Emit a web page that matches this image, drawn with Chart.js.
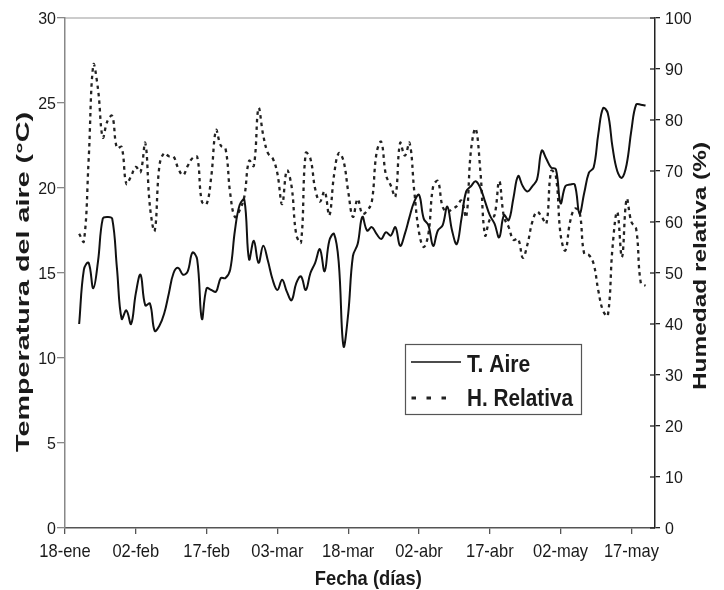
<!DOCTYPE html>
<html>
<head>
<meta charset="utf-8">
<script src="https://cdn.jsdelivr.net/npm/chart.js@4.4.1/dist/chart.umd.min.js"></script>
<style>
  html, body { margin: 0; padding: 0; background: #fff; }
  #wrap { width: 724px; height: 590px; }
</style>
</head>
<body>
<div id="wrap"><canvas id="chart" width="724" height="590"></canvas></div>
<script>
// Tick labels on the date axis, one every 15 days from 18-ene
const tickLabels = ['18-ene', '02-feb', '17-feb', '03-mar', '18-mar', '02-abr', '17-abr', '02-may', '17-may'];
const tickStep = 15;
const lastDay = 125;
// Daily series start on 21-ene (day 3 after 18-ene)
const firstDay = 3;

// Temperatura del aire (°C), one value per day
const tempAire = [
  12.0, 15.2, 15.6, 14.1, 15.7, 18.2, 18.3, 18.2, 15.3, 12.3,
  12.8, 12.0, 13.8, 14.9, 13.1, 13.2, 11.6, 11.9, 12.6, 13.8,
  15.0, 15.3, 14.9, 15.1, 16.2, 15.8, 12.3, 14.1, 14.0, 13.9,
  14.7, 14.7, 15.2, 17.5, 19.0, 19.3, 15.8, 16.9, 15.6, 16.6,
  15.7, 14.6, 14.0, 14.6, 13.9, 13.4, 14.4, 14.8, 14.0, 15.0,
  15.6, 16.4, 15.1, 16.9, 17.3, 15.6, 10.7, 12.6, 16.0, 16.7,
  18.3, 17.5, 17.7, 17.3, 17.0, 17.4, 17.2, 17.7, 16.6, 17.3,
  18.3, 19.2, 19.6, 18.2, 17.8, 16.6, 17.5, 17.8, 18.9, 17.5,
  16.7, 18.2, 19.8, 20.1, 20.4, 20.0, 19.2, 18.4, 17.9, 17.1,
  18.4, 18.1, 19.4, 20.7, 20.1, 19.8, 20.1, 20.5, 22.2, 21.7,
  21.2, 21.1, 19.1, 20.1, 20.2, 20.2, 18.5, 19.7, 20.9, 21.2,
  23.2, 24.7, 24.4, 22.4, 21.0, 20.6, 21.4, 23.4, 24.9, 24.9,
  24.85
];

// Humedad relativa (%), one value per day
const humRelativa = [
  57.7, 56.2, 72.0, 90.8, 86.0, 76.6, 79.8, 80.8, 74.5, 74.7,
  67.5, 69.0, 70.8, 69.8, 75.5, 63.0, 58.3, 71.0, 73.5, 72.9,
  72.8, 70.5, 69.2, 71.0, 72.5, 72.8, 64.0, 63.5, 69.0, 78.0,
  75.0, 74.4, 65.6, 61.0, 62.3, 65.0, 72.0, 71.0, 82.3, 77.0,
  73.5, 72.5, 69.5, 63.5, 70.1, 67.0, 57.5, 56.0, 73.5, 72.4,
  66.5, 64.0, 66.0, 61.3, 69.2, 73.5, 72.0, 66.0, 61.0, 64.5,
  61.6, 62.2, 64.0, 73.5, 75.7, 69.2, 67.2, 65.0, 75.5, 73.0,
  75.5, 66.0, 58.0, 55.1, 57.7, 67.0, 68.0, 63.0, 62.0, 62.5,
  63.1, 64.2, 61.0, 74.0, 78.3, 70.0, 57.4, 60.5, 61.3, 68.0,
  61.0, 59.0, 56.5, 56.7, 53.0, 55.7, 60.0, 62.0, 61.0, 59.7,
  70.0, 69.0, 57.5, 54.4, 60.0, 62.6, 62.0, 53.8, 53.5, 51.8,
  46.5, 42.6, 41.6, 55.0, 62.0, 53.1, 64.5, 60.0, 58.7, 48.0,
  47.5
];

const FONT = '"Liberation Sans", Arial, sans-serif';
const TEXT = '#1a1a1a';

function toPoints(values) {
  return values.map((v, i) => ({ x: firstDay + i, y: v }));
}

// The original text is stretched (taller than wide), so labels are drawn by hand.
// y is the centre of the capital letters; len / capH set the stretched size.
function drawText(ctx, text, o) {
  const size = o.size || 16;
  ctx.save();
  ctx.font = (o.bold ? 'bold ' : '') + size + 'px ' + FONT;
  const w = ctx.measureText(text).width;
  const sx = o.len ? o.len / w : 1;
  const sy = o.capH ? o.capH / (0.716 * size) : 1;
  ctx.translate(o.x, o.y);
  ctx.rotate(o.angle || 0);
  ctx.scale(sx, sy);
  ctx.textAlign = o.align || 'center';
  ctx.textBaseline = 'alphabetic';
  ctx.fillStyle = TEXT;
  ctx.fillText(text, 0, 0.358 * size);
  ctx.restore();
}

const extras = {
  id: 'extras',
  afterDraw(chart) {
    const { ctx, chartArea: a, scales } = chart;
    ctx.save();

    // Top border of the plot area
    ctx.strokeStyle = '#9a9a9a';
    ctx.lineWidth = 1.2;
    ctx.beginPath();
    ctx.moveTo(a.left, a.top);
    ctx.lineTo(a.right, a.top);
    ctx.stroke();

    // Right axis ticks cross the axis line
    ctx.strokeStyle = '#222';
    ctx.lineWidth = 1.3;
    scales.y1.ticks.forEach((t) => {
      const y = scales.y1.getPixelForValue(t.value);
      ctx.beginPath();
      ctx.moveTo(a.right - 5, y);
      ctx.lineTo(a.right, y);
      ctx.stroke();
    });

    // Tick labels
    scales.x.ticks.forEach((t) => {
      const label = tickLabels[t.value / tickStep];
      if (!label) return;
      drawText(ctx, label, { x: scales.x.getPixelForValue(t.value), y: 550.6, size: 16.5, capH: 13 });
    });
    scales.y.ticks.forEach((t) => {
      drawText(ctx, String(t.value), { x: 56, y: scales.y.getPixelForValue(t.value), align: 'right', size: 16, capH: 12.4 });
    });
    scales.y1.ticks.forEach((t) => {
      drawText(ctx, String(t.value), { x: 665, y: scales.y1.getPixelForValue(t.value), align: 'left', size: 16, capH: 12.4 });
    });

    // Axis titles
    drawText(ctx, 'Temperatura del aire (°C)', { x: 21.8, y: 282, angle: -Math.PI / 2, size: 19, bold: true, len: 340, capH: 13.5 });
    drawText(ctx, 'Humedad relativa (%)', { x: 699.6, y: 266, angle: -Math.PI / 2, size: 18, bold: true, len: 248, capH: 12.5 });
    drawText(ctx, 'Fecha (días)', { x: 368.3, y: 577.5, size: 17, bold: true, len: 107, capH: 14 });

    // Legend box inside the plot
    const ds = chart.data.datasets;
    ctx.strokeStyle = '#555';
    ctx.lineWidth = 1.2;
    ctx.strokeRect(405.5, 344.5, 176, 70);

    ctx.strokeStyle = ds[0].borderColor;
    ctx.lineWidth = 1.5;
    ctx.beginPath();
    ctx.moveTo(411, 362);
    ctx.lineTo(461, 362);
    ctx.stroke();
    drawText(ctx, ds[0].label, { x: 467, y: 363.3, align: 'left', size: 20, bold: true, len: 63.3, capH: 16.5 });

    ctx.strokeStyle = ds[1].borderColor;
    ctx.lineWidth = 3;
    ctx.setLineDash([4.5, 10.5]);
    ctx.beginPath();
    ctx.moveTo(411.5, 398);
    ctx.lineTo(451, 398);
    ctx.stroke();
    ctx.setLineDash([]);
    drawText(ctx, ds[1].label, { x: 467, y: 397.7, align: 'left', size: 20, bold: true, len: 106, capH: 16.5 });

    ctx.restore();
  }
};

const ctx = document.getElementById('chart').getContext('2d');
const chart = new Chart(ctx, {
  type: 'line',
  data: {
    datasets: [
      {
        label: 'T. Aire',
        data: toPoints(tempAire),
        yAxisID: 'y',
        borderColor: '#111',
        borderWidth: 2,
        pointRadius: 0,
        tension: 0.4,
        fill: false
      },
      {
        label: 'H. Relativa',
        data: toPoints(humRelativa),
        yAxisID: 'y1',
        borderColor: '#222',
        borderWidth: 2.3,
        borderDash: [3.5, 4],
        pointRadius: 0,
        tension: 0.4,
        fill: false
      }
    ]
  },
  options: {
    responsive: false,
    animation: false,
    layout: { padding: { top: 18, left: 0, right: 0, bottom: 0 } },
    plugins: {
      legend: { display: false },
      tooltip: { enabled: false }
    },
    scales: {
      x: {
        type: 'linear',
        min: 0,
        max: lastDay,
        grid: { drawOnChartArea: false, tickLength: 6, color: '#555', lineWidth: 1.3 },
        border: { color: '#555', width: 1.5 },
        ticks: { display: false, stepSize: tickStep, includeBounds: false, autoSkip: false },
        afterFit: (s) => { s.height = 62; }
      },
      y: {
        position: 'left',
        min: 0,
        max: 30,
        grid: { drawOnChartArea: false, tickLength: 8, color: '#888', lineWidth: 1.3 },
        border: { color: '#888', width: 1.5 },
        ticks: { display: false, stepSize: 5 },
        afterFit: (s) => { s.width = 65; }
      },
      y1: {
        position: 'right',
        min: 0,
        max: 100,
        grid: { drawOnChartArea: false, tickLength: 5, color: '#222', lineWidth: 1.3 },
        border: { color: '#222', width: 1.5 },
        ticks: { display: false, stepSize: 10 },
        afterFit: (s) => { s.width = 69; }
      }
    }
  },
  plugins: [extras]
});
</script>
</body>
</html>
